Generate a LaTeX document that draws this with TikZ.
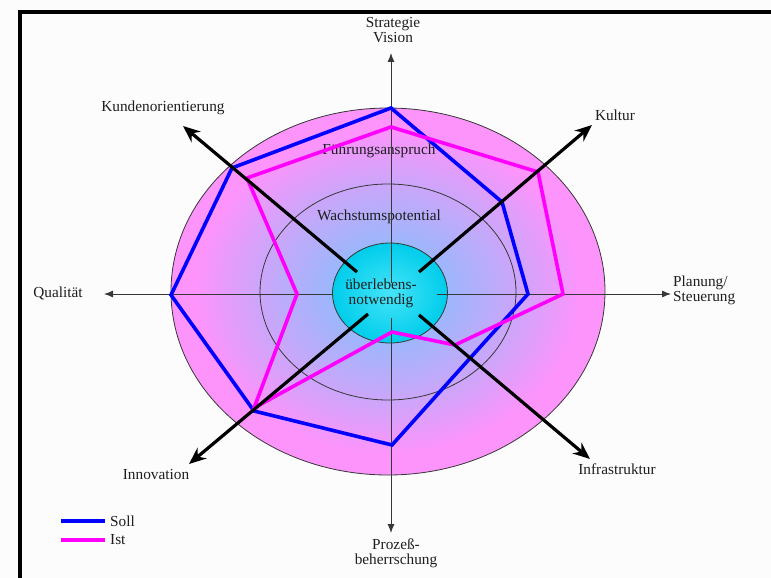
\documentclass[tikz,border=0pt]{standalone}
\usepackage{fontspec}
\setmainfont{Liberation Serif}
\usetikzlibrary{arrows.meta,shapes.geometric}
\definecolor{webSoll}{RGB}{0,0,255}
\definecolor{webIst}{RGB}{255,0,255}
\definecolor{webCore}{RGB}{135,190,255}
\definecolor{webInner}{RGB}{152,184,252}
\definecolor{webMid}{RGB}{205,165,250}
\definecolor{webPink}{RGB}{252,148,252}
\definecolor{webCyan}{RGB}{0,205,235}
\definecolor{webCyanLight}{RGB}{70,228,248}
\definecolor{webInk}{RGB}{30,30,30}
\definecolor{webLine}{RGB}{55,55,55}
\definecolor{webPaper}{RGB}{251,252,251}
\pgfdeclareradialshading{webglow}{\pgfpoint{0bp}{0bp}}{%
  color(0bp)=(webCore); color(6bp)=(webInner); color(15bp)=(webMid);
  color(22bp)=(webPink); color(25bp)=(webPink); color(50bp)=(webPink)}
\tikzset{
  webaxis/.style={draw=webLine,line width=0.9pt,-{Latex[length=9pt,width=7pt]}},
  webspoke/.style={draw=black,line width=3.2pt,-{Stealth[length=17pt,width=14pt]}},
  websoll/.style={draw=webSoll,line width=3.6pt,line join=miter},
  webist/.style={draw=webIst,line width=3.6pt,line join=miter},
  webring/.style={draw=webLine,line width=0.8pt},
  weblabel/.style={font=\fontsize{15.3}{15}\selectfont,text=webInk,align=center,inner sep=1pt},
}

\begin{document}
\begin{tikzpicture}[x=1pt,y=-1pt]
% Canvas: 771 x 578, y runs downwards.
\path[use as bounding box] (0,0) rectangle (771,578);
\fill[webPaper] (0,0) rectangle (771,578);
\draw[line width=4.5pt] (20,578) -- (20,12) -- (771,12);

% Zones: shaded outer ellipse, growth ring, core.
\shade[shading=webglow] (388,291.5) ellipse [x radius=217,y radius=183.5];
\draw[webring] (388,291.5) ellipse [x radius=217,y radius=183.5];
\draw[webring] (388,292) ellipse [x radius=128,y radius=108];
\node[ellipse,draw=webLine,line width=0.8pt,inner color=webCyanLight,outer color=webCyan,
      minimum width=115pt,minimum height=100pt,inner sep=0pt] (core) at (390,293) {};

\node[weblabel] (lead) at (379,151) {Führungsanspruch};
\node[weblabel] (growth) at (379,217) {Wachstumspotential};
\node[weblabel] (survive) at (381,293) {überlebens-\\notwendig};

% Thin main axes.
\coordinate (nIn) at (391,283);  \coordinate (nTip) at (391,53);
\coordinate (sIn) at (391,318);  \coordinate (sTip) at (391,533);
\coordinate (wIn) at (332,294);  \coordinate (wTip) at (104,294);
\coordinate (eIn) at (437,294);  \coordinate (eTip) at (671,294);
\draw[webaxis] (nIn) -- (nTip);
\draw[webaxis] (sIn) -- (sTip);
\draw[webaxis] (wIn) -- (wTip);
\draw[webaxis] (eIn) -- (eTip);

% Profiles.
\draw[websoll] (391,108) -- (502,202) -- (528,294) -- (463,366) -- (392,445)
  -- (254,411) -- (171,295) -- (232,168) -- cycle;
\draw[webist] (391,127) -- (538,172) -- (563,294) -- (455,345) -- (392,332)
  -- (254,408) -- (297,294) -- (247,178) -- cycle;

% Diagonal axes.
\coordinate (nwIn) at (357,272); \coordinate (nwTip) at (183,126);
\coordinate (neIn) at (419,272); \coordinate (neTip) at (592,125);
\coordinate (swIn) at (368,314); \coordinate (swTip) at (189,464);
\coordinate (seIn) at (419,315); \coordinate (seTip) at (590,459);
\draw[webspoke] (nwIn) -- (nwTip);
\draw[webspoke] (neIn) -- (neTip);
\draw[webspoke] (swIn) -- (swTip);
\draw[webspoke] (seIn) -- (seTip);

% Axis labels.
\node[weblabel] (vision) at (393,30) {Strategie\\Vision};
\node[weblabel] (customer) at (163,108) {Kundenorientierung};
\node[weblabel] (culture) at (615,115) {Kultur};
\node[weblabel] (quality) at (58,293) {Qualität};
\node[weblabel,anchor=west,align=left] (planning) at (672,290) {Planung/\\Steuerung};
\node[weblabel] (innovation) at (156,475) {Innovation};
\node[weblabel] (infra) at (617,469) {Infrastruktur};
\node[weblabel] (process) at (396,553) {Prozeß-\\beherrschung};

% Legend.
\coordinate (sollA) at (61,521); \coordinate (sollB) at (105,521);
\coordinate (istA) at (61,540);  \coordinate (istB) at (105,540);
\draw[websoll] (sollA) -- (sollB);
\draw[webist] (istA) -- (istB);
\node[weblabel,anchor=west] (sollkey) at (109,521) {Soll};
\node[weblabel,anchor=west] (istkey) at (109,540) {Ist};
\end{tikzpicture}
\end{document}
